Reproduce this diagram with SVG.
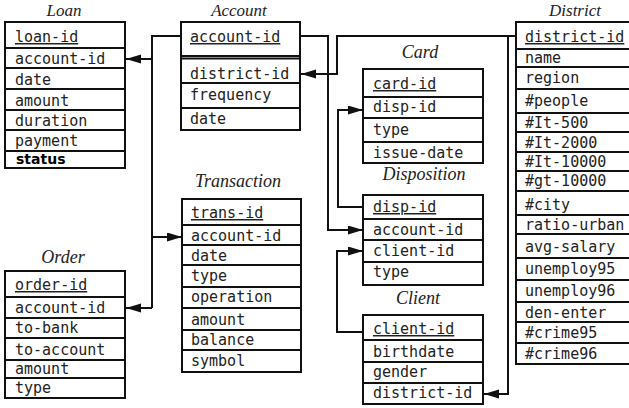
<svg xmlns="http://www.w3.org/2000/svg" width="629" height="408" viewBox="0 0 629 408">
<style>
.box{fill:#fff;stroke:#111;stroke-width:2}
.sep{stroke:#111;stroke-width:2}
.f{font-family:"DejaVu Sans Mono",monospace;font-size:15px;fill:#222}
.k{text-decoration:underline}
.b{font-family:"DejaVu Sans",sans-serif;font-size:14px;font-weight:bold;fill:#000}
.t{font-family:"Liberation Serif",serif;font-style:italic;font-size:18px;fill:#222;text-anchor:middle}
.tt{font-size:17px}
.c{fill:none;stroke:#111;stroke-width:2}
</style>
<defs>
<marker id="ah" markerUnits="userSpaceOnUse" markerWidth="16" markerHeight="10" refX="15" refY="4.5" orient="auto">
<path d="M0,0 L15,4.5 L0,9 z" fill="#111"/>
</marker>
</defs>
<rect width="629" height="408" fill="#fff"/>

<g id="loan">
<text class="t tt" x="64" y="16">Loan</text>
<rect class="box" x="5" y="22" width="120" height="146"/>
<path class="sep" d="M5 48H125M5 68H125M5 89H125M5 110H125M5 130H125M5 151H125"/>
<text class="f k" x="15" y="42">loan-id</text>
<text class="f" x="15" y="64">account-id</text>
<text class="f" x="15" y="85">date</text>
<text class="f" x="15" y="106">amount</text>
<text class="f" x="15" y="126">duration</text>
<text class="f" x="15" y="146">payment</text>
<text class="b" x="16" y="164">status</text>
</g>

<g id="account">
<text class="t tt" x="239" y="16">Account</text>
<rect class="box" x="181" y="22" width="119" height="108"/>
<path class="sep" d="M181 56H300M181 83H300M181 108H300"/>
<path class="sep" stroke-width="1" d="M181 58.5H300"/>
<text class="f k" x="190" y="42">account-id</text>
<text class="f" x="190" y="79">district-id</text>
<text class="f" x="190" y="100">frequency</text>
<text class="f" x="190" y="124">date</text>
</g>

<g id="district">
<text class="t tt" x="575" y="16">District</text>
<rect class="box" x="516" y="22" width="130" height="342"/>
<path class="sep" d="M516 49H629M516 67H629M516 89H629M516 113H629M516 132H629M516 152H629M516 171H629M516 191H629M516 215H629M516 234H629M516 258H629M516 280H629M516 302H629M516 322H629M516 343H629"/>
<text class="f k" x="525" y="42">district-id</text>
<text class="f" x="525" y="63">name</text>
<text class="f" x="525" y="83">region</text>
<text class="f" x="525" y="106">#people</text>
<text class="f" x="525" y="128">#It-500</text>
<text class="f" x="525" y="148">#It-2000</text>
<text class="f" x="525" y="167">#It-10000</text>
<text class="f" x="525" y="186">#gt-10000</text>
<text class="f" x="525" y="210">#city</text>
<text class="f" x="525" y="230">ratio-urban</text>
<text class="f" x="525" y="252">avg-salary</text>
<text class="f" x="525" y="274">unemploy95</text>
<text class="f" x="525" y="296">unemploy96</text>
<text class="f" x="525" y="318">den-enter</text>
<text class="f" x="525" y="338">#crime95</text>
<text class="f" x="525" y="359">#crime96</text>
</g>

<g id="card">
<text class="t" x="420" y="58">Card</text>
<rect class="box" x="363" y="69" width="120" height="94"/>
<path class="sep" d="M363 97H483M363 118H483M363 142H483"/>
<text class="f k" x="373" y="89">card-id</text>
<text class="f" x="373" y="112">disp-id</text>
<text class="f" x="373" y="135">type</text>
<text class="f" x="373" y="158">issue-date</text>
</g>

<g id="disposition">
<text class="t" x="424" y="180">Disposition</text>
<rect class="box" x="363" y="195" width="120" height="90"/>
<path class="sep" d="M363 219H483M363 240H483M363 262H483"/>
<text class="f k" x="373" y="212">disp-id</text>
<text class="f" x="373" y="235">account-id</text>
<text class="f" x="373" y="256">client-id</text>
<text class="f" x="373" y="277">type</text>
</g>

<g id="client">
<text class="t" x="418" y="304">Client</text>
<rect class="box" x="363" y="315" width="120" height="89"/>
<path class="sep" d="M363 340H483M363 362H483M363 383H483"/>
<text class="f k" x="373" y="334">client-id</text>
<text class="f" x="373" y="357">birthdate</text>
<text class="f" x="373" y="377">gender</text>
<text class="f" x="373" y="398">district-id</text>
</g>

<g id="transaction">
<text class="t" x="238" y="187">Transaction</text>
<rect class="box" x="182" y="199" width="119" height="173"/>
<path class="sep" d="M182 225H301M182 245H301M182 265H301M182 287H301M182 308H301M182 330H301M182 350H301"/>
<text class="f k" x="191" y="218">trans-id</text>
<text class="f" x="191" y="241">account-id</text>
<text class="f" x="191" y="261">date</text>
<text class="f" x="191" y="281">type</text>
<text class="f" x="191" y="302">operation</text>
<text class="f" x="191" y="325">amount</text>
<text class="f" x="191" y="345">balance</text>
<text class="f" x="191" y="366">symbol</text>
</g>

<g id="order">
<text class="t" x="63" y="263">Order</text>
<rect class="box" x="5" y="271" width="120" height="127"/>
<path class="sep" d="M5 297H125M5 318H125M5 338H125M5 360H125M5 378H125"/>
<text class="f k" x="15" y="290">order-id</text>
<text class="f" x="15" y="313">account-id</text>
<text class="f" x="15" y="333">to-bank</text>
<text class="f" x="15" y="355">to-account</text>
<text class="f" x="15" y="374">amount</text>
<text class="f" x="15" y="393">type</text>
</g>

<g id="connectors">
<path class="c" d="M181 36H152V308"/>
<path class="c" d="M152 59H126" marker-end="url(#ah)"/>
<path class="c" d="M152 237H182" marker-end="url(#ah)"/>
<path class="c" d="M152 308H126" marker-end="url(#ah)"/>
<path class="c" d="M300 36H328V230H363" marker-end="url(#ah)"/>
<path class="c" d="M516 36H337V74H301" marker-end="url(#ah)"/>
<path class="c" d="M508 36V394H484" marker-end="url(#ah)"/>
<path class="c" d="M363 207H338V110H363" marker-end="url(#ah)"/>
<path class="c" d="M363 332H337V251H363" marker-end="url(#ah)"/>
</g>
</svg>
